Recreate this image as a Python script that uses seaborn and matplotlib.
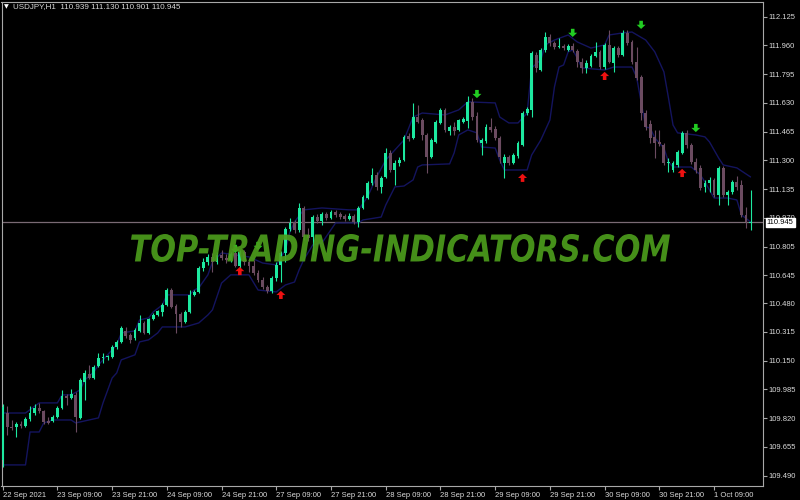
import matplotlib
matplotlib.use('Agg')
import matplotlib.pyplot as plt
import seaborn as sns
import pandas as pd
import numpy as np
from matplotlib import font_manager
from matplotlib.font_manager import FontProperties
from matplotlib.textpath import TextPath
from matplotlib.patches import PathPatch
from matplotlib.path import Path
from matplotlib.transforms import Affine2D

# USDJPY H1 candles
opens = [109.581, 109.850, 109.770, 109.770, 109.787, 109.776, 109.816, 109.850, 109.879, 109.862,
         109.804, 109.804, 109.827, 109.879, 109.948, 109.936, 109.954, 109.822, 110.028, 110.074,
         110.051, 110.120, 110.166, 110.172, 110.172, 110.229, 110.258, 110.321, 110.298, 110.281,
         110.321, 110.367, 110.310, 110.390, 110.413, 110.430, 110.470, 110.556, 110.465, 110.419,
         110.373, 110.430, 110.528, 110.545, 110.683, 110.717, 110.746, 110.717, 110.757, 110.740,
         110.729, 110.769, 110.694, 110.775, 110.717, 110.694, 110.654, 110.614, 110.574, 110.551,
         110.625, 110.700, 110.769, 110.907, 110.947, 110.901, 111.027, 110.872, 110.861, 110.975,
         110.952, 110.993, 110.970, 111.004, 110.993, 110.981, 110.964, 110.981, 110.947, 111.027,
         111.084, 111.171, 111.217, 111.148, 111.205, 111.343, 111.245, 111.285, 111.302, 111.440,
         111.429, 111.549, 111.532, 111.446, 111.320, 111.406, 111.515, 111.590, 111.469, 111.492,
         111.475, 111.521, 111.526, 111.636, 111.555, 111.400, 111.412, 111.492, 111.481, 111.429,
         111.285, 111.320, 111.285, 111.326, 111.389, 111.572, 111.590, 111.905, 111.819, 111.934,
         112.009, 111.974, 111.951, 111.957, 111.934, 111.957, 111.928, 111.865, 111.831, 111.842,
         111.900, 111.923, 111.836, 111.963, 111.859, 111.945, 111.905, 112.032, 111.980, 111.865,
         111.779, 111.572, 111.509, 111.435, 111.406, 111.389, 111.285, 111.245, 111.274, 111.343,
         111.458, 111.389, 111.291, 111.257, 111.148, 111.171, 111.188, 111.102, 111.257, 111.102,
         111.119, 111.176, 111.159, 110.987, 110.939]
highs = [109.902, 109.891, 109.810, 109.799, 109.804, 109.827, 109.891, 109.902, 109.908, 109.868,
         109.827, 109.839, 109.891, 109.983, 109.960, 109.988, 109.971, 110.051, 110.097, 110.126,
         110.126, 110.195, 110.195, 110.184, 110.241, 110.270, 110.350, 110.344, 110.310, 110.338,
         110.413, 110.379, 110.396, 110.425, 110.442, 110.482, 110.568, 110.568, 110.476, 110.430,
         110.442, 110.556, 110.556, 110.694, 110.740, 110.763, 110.769, 110.775, 110.786, 110.763,
         110.775, 110.792, 110.786, 110.786, 110.740, 110.729, 110.671, 110.631, 110.585, 110.637,
         110.717, 110.780, 110.918, 110.970, 110.958, 111.056, 111.039, 110.912, 110.987, 110.993,
         111.004, 111.004, 111.016, 111.016, 111.004, 110.993, 110.999, 110.993, 111.039, 111.102,
         111.182, 111.257, 111.234, 111.211, 111.371, 111.360, 111.302, 111.320, 111.446, 111.458,
         111.630, 111.618, 111.544, 111.458, 111.429, 111.532, 111.601, 111.601, 111.503, 111.521,
         111.538, 111.549, 111.670, 111.659, 111.578, 111.429, 111.509, 111.544, 111.498, 111.440,
         111.337, 111.331, 111.343, 111.412, 111.584, 111.607, 111.928, 111.923, 111.945, 112.037,
         112.026, 111.986, 112.003, 111.968, 111.968, 111.974, 111.940, 111.888, 111.877, 111.911,
         111.980, 111.934, 111.974, 112.049, 111.957, 111.957, 112.049, 112.049, 111.991, 111.951,
         111.791, 111.590, 111.532, 111.475, 111.475, 111.400, 111.314, 111.297, 111.360, 111.469,
         111.475, 111.400, 111.314, 111.274, 111.188, 111.205, 111.200, 111.268, 111.268, 111.131,
         111.188, 111.211, 111.188, 111.033, 111.130]
lows = [109.540, 109.724, 109.753, 109.712, 109.764, 109.770, 109.804, 109.839, 109.850, 109.787,
        109.787, 109.799, 109.822, 109.873, 109.896, 109.931, 109.741, 109.816, 109.925, 110.046,
        110.046, 110.115, 110.137, 110.155, 110.166, 110.218, 110.252, 110.281, 110.252, 110.270,
        110.315, 110.304, 110.304, 110.384, 110.407, 110.407, 110.465, 110.453, 110.310, 110.344,
        110.367, 110.425, 110.522, 110.539, 110.665, 110.700, 110.660, 110.706, 110.729, 110.711,
        110.717, 110.688, 110.683, 110.700, 110.660, 110.643, 110.602, 110.562, 110.539, 110.539,
        110.608, 110.602, 110.717, 110.895, 110.884, 110.890, 110.843, 110.838, 110.769, 110.941,
        110.930, 110.958, 110.964, 110.975, 110.964, 110.952, 110.958, 110.935, 110.918, 111.021,
        111.079, 111.159, 111.131, 111.113, 111.200, 111.234, 111.159, 111.268, 111.297, 111.412,
        111.423, 111.515, 111.417, 111.228, 111.314, 111.400, 111.509, 111.463, 111.446, 111.446,
        111.469, 111.515, 111.486, 111.532, 111.406, 111.331, 111.400, 111.463, 111.417, 111.285,
        111.200, 111.274, 111.280, 111.314, 111.383, 111.561, 111.549, 111.808, 111.813, 111.923,
        111.957, 111.940, 111.945, 111.934, 111.928, 111.923, 111.836, 111.802, 111.802, 111.836,
        111.894, 111.825, 111.825, 111.859, 111.808, 111.894, 111.900, 111.963, 111.854, 111.762,
        111.532, 111.475, 111.400, 111.314, 111.383, 111.274, 111.234, 111.234, 111.262, 111.337,
        111.371, 111.280, 111.228, 111.131, 111.119, 111.119, 111.090, 111.044, 111.090, 111.044,
        111.107, 111.131, 110.975, 110.912, 110.901]
closes = [109.885, 109.770, 109.764, 109.787, 109.776, 109.816, 109.850, 109.879, 109.862, 109.799,
          109.793, 109.827, 109.879, 109.948, 109.936, 109.960, 109.827, 110.040, 110.080, 110.051,
          110.115, 110.166, 110.172, 110.178, 110.229, 110.258, 110.338, 110.292, 110.270, 110.327,
          110.367, 110.310, 110.390, 110.413, 110.436, 110.470, 110.556, 110.459, 110.419, 110.373,
          110.430, 110.528, 110.545, 110.683, 110.717, 110.746, 110.717, 110.757, 110.740, 110.729,
          110.763, 110.694, 110.775, 110.717, 110.694, 110.654, 110.614, 110.574, 110.551, 110.625,
          110.700, 110.769, 110.907, 110.941, 110.901, 111.027, 110.861, 110.855, 110.975, 110.952,
          110.993, 110.970, 111.004, 110.987, 110.975, 110.964, 110.981, 110.947, 111.027, 111.090,
          111.171, 111.217, 111.148, 111.200, 111.343, 111.245, 111.285, 111.302, 111.435, 111.423,
          111.549, 111.521, 111.446, 111.320, 111.417, 111.521, 111.590, 111.475, 111.492, 111.469,
          111.532, 111.538, 111.636, 111.549, 111.417, 111.417, 111.492, 111.475, 111.429, 111.320,
          111.320, 111.285, 111.331, 111.400, 111.572, 111.595, 111.917, 111.831, 111.934, 112.009,
          111.974, 111.951, 111.957, 111.945, 111.957, 111.934, 111.865, 111.831, 111.859, 111.900,
          111.923, 111.836, 111.963, 111.865, 111.945, 111.905, 112.032, 111.974, 111.865, 111.773,
          111.572, 111.492, 111.429, 111.400, 111.394, 111.285, 111.291, 111.285, 111.349, 111.458,
          111.389, 111.291, 111.245, 111.142, 111.171, 111.188, 111.102, 111.257, 111.102, 111.119,
          111.176, 111.148, 110.987, 110.947, 110.945]

# channel indicator (upper / lower line), sampled at bar numbers
upper_bar = [0, 5, 8, 12, 13, 15, 17, 18, 20, 21, 23, 25, 26, 29, 30, 32, 33, 35, 36, 41, 42, 43,
             45, 46, 48, 54, 57, 60, 62, 63, 64, 66, 70, 76, 78, 80, 82, 84, 86, 88, 90, 92, 97,
             100, 102, 108, 109, 111, 113, 115, 116, 118, 119, 121, 124, 126, 129, 132, 133, 136,
             138, 141, 143, 145, 146, 147, 148, 152, 154, 155, 157, 158, 161, 164]
upper_val = [109.850, 109.850, 109.908, 109.908, 109.954, 109.954, 109.983, 110.040, 110.086,
             110.126, 110.184, 110.241, 110.310, 110.321, 110.384, 110.396, 110.430, 110.470,
             110.528, 110.528, 110.556, 110.568, 110.643, 110.717, 110.769, 110.746, 110.711,
             110.700, 110.786, 110.890, 110.947, 111.016, 111.027, 111.016, 111.016, 111.090,
             111.205, 111.302, 111.360, 111.417, 111.549, 111.572, 111.561, 111.590, 111.636,
             111.630, 111.549, 111.515, 111.515, 111.572, 111.831, 111.877, 111.963, 111.991,
             112.020, 111.980, 111.945, 111.963, 112.020, 112.032, 112.037, 111.991, 111.923,
             111.808, 111.659, 111.503, 111.458, 111.446, 111.435, 111.406, 111.314, 111.274,
             111.257, 111.205]
lower_bar = [0, 5, 6, 8, 9, 11, 15, 16, 21, 22, 24, 25, 26, 29, 30, 32, 34, 35, 40, 43, 45, 46,
             48, 50, 54, 56, 60, 62, 64, 65, 66, 68, 70, 73, 78, 79, 83, 84, 86, 88, 90, 91, 92,
             98, 99, 100, 102, 104, 105, 108, 109, 110, 115, 116, 118, 120, 121, 122, 123, 124,
             125, 126, 127, 132, 134, 138, 139, 140, 141, 142, 143, 145, 146, 147, 151, 153, 154,
             156, 159, 161, 162, 164]
lower_val = [109.552, 109.552, 109.741, 109.741, 109.793, 109.810, 109.810, 109.793, 109.822,
             109.908, 110.051, 110.080, 110.155, 110.184, 110.258, 110.270, 110.310, 110.344,
             110.344, 110.367, 110.413, 110.442, 110.596, 110.643, 110.643, 110.556, 110.545,
             110.585, 110.602, 110.671, 110.729, 110.815, 110.826, 110.941, 110.941, 110.958,
             110.975, 111.044, 111.148, 111.153, 111.188, 111.262, 111.274, 111.280, 111.343,
             111.446, 111.475, 111.458, 111.377, 111.371, 111.302, 111.245, 111.245, 111.331,
             111.417, 111.532, 111.722, 111.836, 111.848, 111.923, 111.934, 111.888, 111.831,
             111.819, 111.836, 111.836, 111.779, 111.636, 111.492, 111.486, 111.429, 111.371,
             111.291, 111.262, 111.262, 111.217, 111.176, 111.084, 111.084, 111.073, 110.987,
             110.947]

# signal arrows
sell_bar = [51, 56, 104, 125, 140, 152]
sell_price = [110.792, 110.809, 111.681, 112.032, 112.078, 111.486]
buy_bar = [52, 61, 114, 132, 149]
buy_price = [110.665, 110.528, 111.200, 111.785, 111.228]

time_labels = ['22 Sep 2021', '23 Sep 09:00', '23 Sep 21:00', '24 Sep 09:00', '24 Sep 21:00',
               '27 Sep 09:00', '27 Sep 21:00', '28 Sep 09:00', '28 Sep 21:00', '29 Sep 09:00',
               '29 Sep 21:00', '30 Sep 09:00', '30 Sep 21:00', '1 Oct 09:00']
price_ticks = [112.125, 111.960, 111.795, 111.630, 111.465, 111.300, 111.135, 110.970, 110.805,
               110.640, 110.480, 110.315, 110.150, 109.985, 109.820, 109.655, 109.490]
price_labels = ['112.125', '111.960', '111.795', '111.630', '111.465', '111.300', '111.135',
                '110.970', '110.805', '110.645', '110.480', '110.315', '110.150', '109.985',
                '109.820', '109.655', '109.490']
symbol = 'USDJPY,H1'
last_price = 110.945
watermark = 'TOP-TRADING-INDICATORS.COM'

# fonts: a narrow one for the MT4 style labels if it is there
names = {f.name for f in font_manager.fontManager.ttflist}
if 'Liberation Sans Narrow' in names:
    small_font, fs = 'Liberation Sans Narrow', 6.6
else:
    small_font, fs = 'Liberation Sans', 5.5

sns.set_theme(style='dark', rc={'axes.facecolor': 'black', 'figure.facecolor': 'black',
                                'axes.edgecolor': '#a8a8a8', 'axes.grid': False,
                                'axes.linewidth': 0.8})
plt.rcParams['font.family'] = [small_font, 'DejaVu Sans']

fig = plt.figure(figsize=(8, 5), dpi=100)
ax = fig.add_axes([1.5 / 800, 14 / 500, 761.5 / 800, 484.3 / 500])

df = pd.DataFrame({'o': opens, 'h': highs, 'l': lows, 'c': closes})
df['bar'] = np.arange(len(df))
up = df['c'] >= df['o']
bull, bear = '#1de9a0', '#6b4b60'
cols = np.where(up, bull, bear)

ax.vlines(df['bar'], df['l'], df['h'], colors=cols, linewidth=0.8, zorder=3)
body = np.maximum((df['c'] - df['o']).abs(), 0.004)
ax.bar(df['bar'], body, bottom=np.minimum(df['o'], df['c']), width=0.62,
       color=cols, linewidth=0, zorder=4)

sns.lineplot(x=upper_bar, y=upper_val, ax=ax, color='#14145e', linewidth=1.0, zorder=2)
sns.lineplot(x=lower_bar, y=lower_val, ax=ax, color='#14145e', linewidth=1.0, zorder=2)

# bid line
ax.axhline(last_price, color='#7a6a74', linewidth=0.9, zorder=1)

# arrow markers
down_arrow = Path([(-0.22, 0.5), (0.22, 0.5), (0.22, 0.02), (0.55, 0.02), (0.0, -0.5),
                   (-0.55, 0.02), (-0.22, 0.02), (-0.22, 0.5)], closed=True)
up_arrow = Path([(x, -y) for x, y in down_arrow.vertices], closed=True)
sns.scatterplot(x=sell_bar, y=sell_price, ax=ax, marker=down_arrow, s=42, color='#22cc22',
                edgecolor='none', linewidth=0, zorder=6)
sns.scatterplot(x=buy_bar, y=buy_price, ax=ax, marker=up_arrow, s=42, color='#ee1111',
                edgecolor='none', linewidth=0, zorder=6)

ax.set_xlim(-0.263, 166.73)
ax.set_ylim(109.431, 112.211)
ax.set_xlabel('')
ax.set_ylabel('')

ax.yaxis.tick_right()
ax.set_yticks(price_ticks)
ax.set_yticklabels(price_labels)
ax.set_xticks(np.arange(0, 12 * len(time_labels), 12))
ax.set_xticklabels(time_labels, ha='left')
ax.tick_params(axis='both', which='both', direction='out', length=3, width=0.8,
               color='#a8a8a8', labelcolor='#dadada', labelsize=fs)
ax.tick_params(axis='y', pad=1, right=True, left=False)
ax.tick_params(axis='x', pad=1.5, bottom=True)
for sp in ax.spines.values():
    sp.set_visible(True)
    sp.set_color('#a8a8a8')
    sp.set_linewidth(0.8)

# current price box on the scale
ax.text(1.005, last_price, '110.945', transform=ax.get_yaxis_transform(), ha='left',
        va='center', fontsize=fs, color='black', clip_on=False, zorder=20,
        bbox=dict(boxstyle='square,pad=0.15', facecolor='white', edgecolor='white'))

# header
fig.text(4 / 800, 1 - 6.5 / 500, '\u25bc', fontsize=4.5, color='white', va='center',
         family='DejaVu Sans')
fig.text(13 / 800, 1 - 6.5 / 500, symbol + '  110.939 111.130 110.901 110.945',
         fontsize=fs + 0.3, color='#dadada', va='center')

# watermark, stretched into its box (pixels from the top-left corner)
fp = FontProperties(family='DejaVu Sans', weight='bold', style='oblique')
tp = TextPath((0, 0), watermark, size=100, prop=fp)
bb = tp.get_extents()
x0, x1, ytop, ybot = 131, 670, 234, 262
tr = (Affine2D().translate(-bb.x0, -bb.y0)
      .scale((x1 - x0) / bb.width, (ybot - ytop) / bb.height)
      .translate(x0, 500 - ybot))
fig.add_artist(PathPatch(tp, transform=tr, facecolor='#4c9c1c', edgecolor='none',
                         alpha=0.92, zorder=30))

fig.savefig('out.png', dpi=100, facecolor='black')
